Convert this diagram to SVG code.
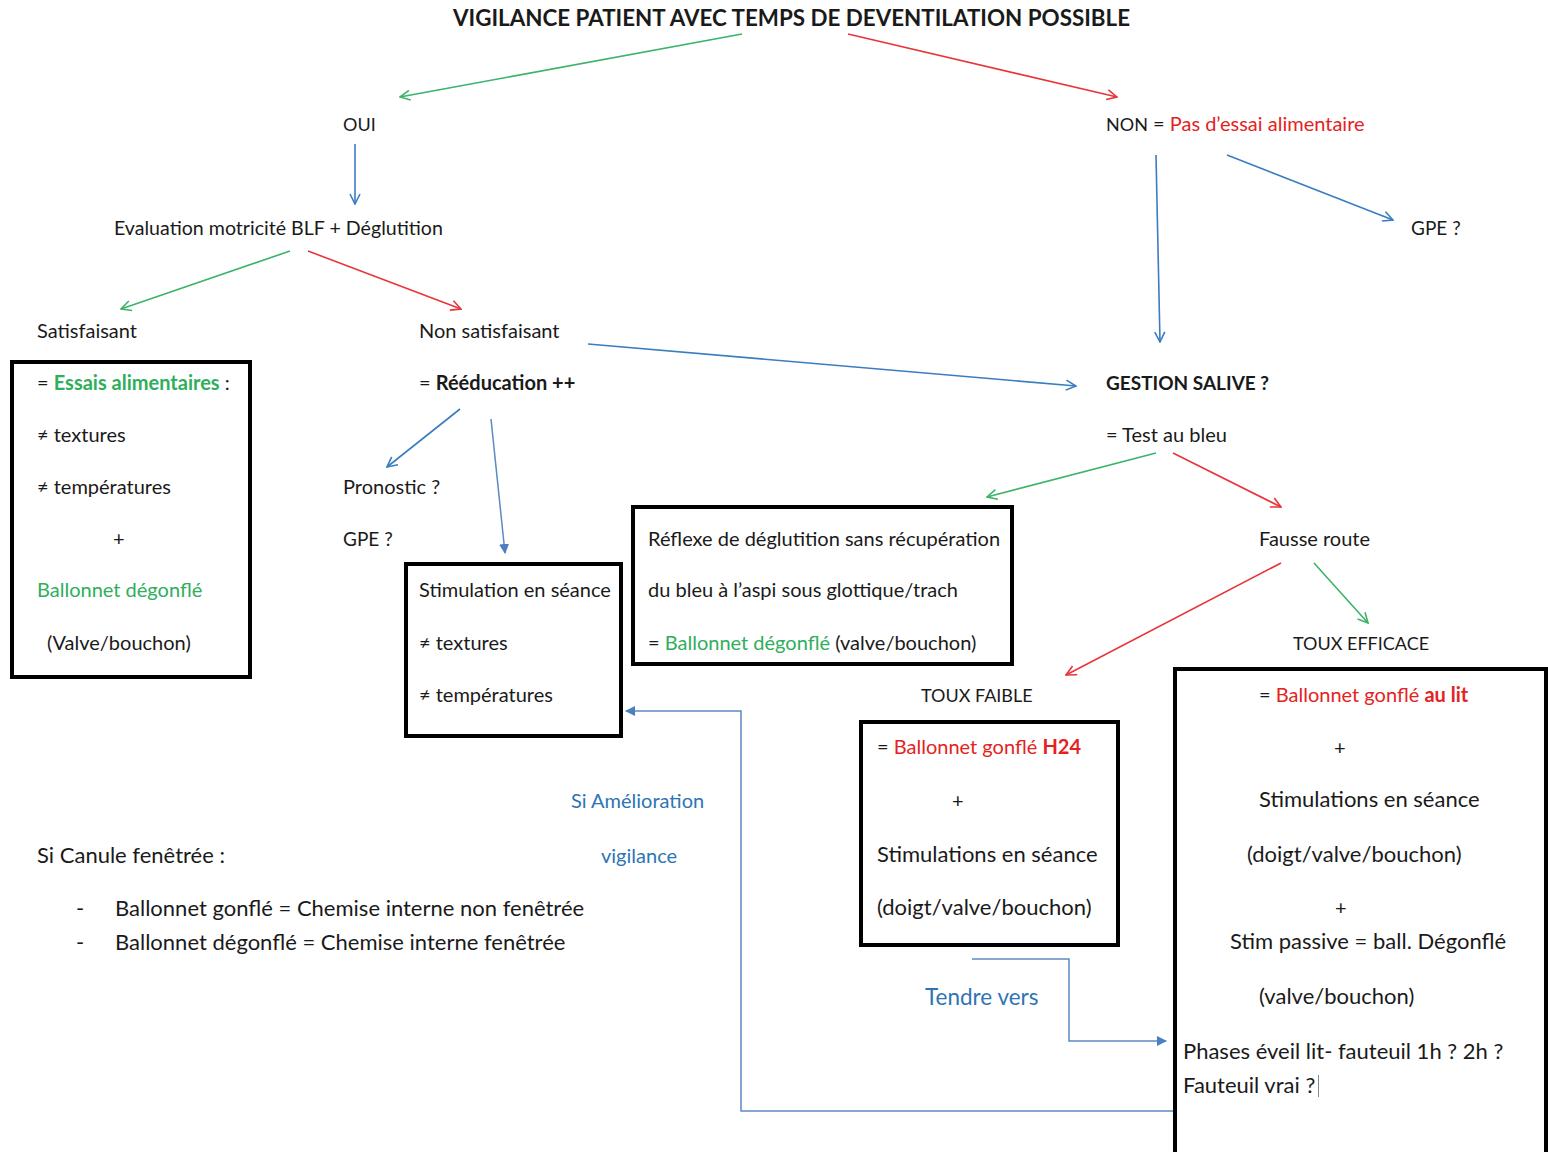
<svg xmlns="http://www.w3.org/2000/svg" width="1548" height="1152" viewBox="0 0 1548 1152">
<defs>
<style>
text{font-family:Lato,"Liberation Sans",sans-serif;font-size:20px;fill:#1a1a1a}
.b{font-weight:bold}
.g{fill:#2fae5c}
.r{fill:#e42222}
.bl{fill:#2e74b5}
.big{font-size:22px}
.caps{font-size:18px}
.box{fill:none;stroke:#000;stroke-width:4}
.cg{stroke:#3bb36a;stroke-width:1.6;fill:none}
.cr{stroke:#e8353a;stroke-width:1.6;fill:none}
.cb{stroke:#3a7dc0;stroke-width:1.6;fill:none}
.cbe{stroke:#5b8ac4;stroke-width:1.5;fill:none}
</style>
<marker id="ag" viewBox="0 0 12 12" refX="11" refY="6" markerWidth="12" markerHeight="12" markerUnits="userSpaceOnUse" orient="auto"><path d="M1,1 L11,6 L1,11" fill="none" stroke="#3bb36a" stroke-width="1.6"/></marker>
<marker id="ar" viewBox="0 0 12 12" refX="11" refY="6" markerWidth="12" markerHeight="12" markerUnits="userSpaceOnUse" orient="auto"><path d="M1,1 L11,6 L1,11" fill="none" stroke="#e8353a" stroke-width="1.6"/></marker>
<marker id="ab" viewBox="0 0 12 12" refX="11" refY="6" markerWidth="12" markerHeight="12" markerUnits="userSpaceOnUse" orient="auto"><path d="M1,1 L11,6 L1,11" fill="none" stroke="#3a7dc0" stroke-width="1.6"/></marker>
<marker id="af" viewBox="0 0 10 10" refX="9" refY="5" markerWidth="10" markerHeight="10" markerUnits="userSpaceOnUse" orient="auto"><path d="M0,0 L10,5 L0,10 Z" fill="#4a7fc1"/></marker>
</defs>
<rect width="1548" height="1152" fill="#fff"/>

<g id="connectors">
<line class="cg" x1="742" y1="34" x2="400" y2="97" marker-end="url(#ag)"/>
<line class="cr" x1="848" y1="34" x2="1117" y2="97" marker-end="url(#ar)"/>
<line class="cb" x1="355" y1="144" x2="355" y2="204" marker-end="url(#ab)"/>
<line class="cg" x1="290" y1="251" x2="121" y2="309" marker-end="url(#ag)"/>
<line class="cr" x1="308" y1="251" x2="461" y2="309" marker-end="url(#ar)"/>
<line class="cb" x1="1156" y1="155" x2="1160" y2="342" marker-end="url(#ab)"/>
<line class="cb" x1="1227" y1="155" x2="1393" y2="220" marker-end="url(#ab)"/>
<line class="cb" x1="588" y1="344" x2="1076" y2="386" marker-end="url(#ab)"/>
<line class="cb" x1="460" y1="409" x2="387" y2="467" marker-end="url(#ab)"/>
<line class="cbe" x1="491" y1="419" x2="505" y2="553" marker-end="url(#af)"/>
<line class="cg" x1="1156" y1="453" x2="987" y2="497" marker-end="url(#ag)"/>
<line class="cr" x1="1173" y1="453" x2="1281" y2="507" marker-end="url(#ar)"/>
<line class="cr" x1="1281" y1="563" x2="1066" y2="675" marker-end="url(#ar)"/>
<line class="cg" x1="1314" y1="563" x2="1368" y2="623" marker-end="url(#ag)"/>
<polyline class="cbe" points="972,959 1069,959 1069,1041 1166,1041" marker-end="url(#af)"/>
<polyline class="cbe" points="1173,1111 741,1111 741,711 626,711" marker-end="url(#af)"/>
</g>

<g id="title"><text x="453" y="26" class="b" style="font-size:22px" textLength="677" lengthAdjust="spacingAndGlyphs">VIGILANCE PATIENT AVEC TEMPS DE DEVENTILATION POSSIBLE</text></g>
<g id="oui"><text x="343" y="131" class="caps">OUI</text></g>
<g id="non"><text x="1106" y="131"><tspan style="font-size:18px">NON</tspan> = <tspan class="r">Pas d’essai alimentaire</tspan></text></g>
<g id="evaluation"><text x="114" y="235" style="font-size:19.6px">Evaluation motricité BLF + Déglutition</text></g>
<g id="gpe1"><text x="1411" y="235" style="font-size:19px">GPE ?</text></g>
<g id="satisfaisant"><text x="37" y="338">Satisfaisant</text></g>
<g id="non-satisfaisant"><text x="419" y="338">Non satisfaisant</text></g>
<g id="gestion"><text x="1106" y="390" class="b" style="font-size:19px">GESTION SALIVE ?</text></g>
<g id="test"><text x="1106" y="442">= Test au bleu</text></g>
<g id="reeducation"><text x="419" y="390">= <tspan class="b">Rééducation ++</tspan></text></g>

<g id="box-essais">
<rect class="box" x="12" y="362" width="238" height="315"/>
<text x="37" y="390">= <tspan class="g b">Essais alimentaires</tspan> :</text>
<text x="37" y="442">≠ textures</text>
<text x="37" y="494">≠ températures</text>
<text x="113" y="546">+</text>
<text x="37" y="597" class="g">Ballonnet dégonflé</text>
<text x="47" y="650">(Valve/bouchon)</text>
</g>

<g id="pronostic"><text x="343" y="494">Pronostic ?</text></g>
<g id="gpe2"><text x="343" y="546" style="font-size:19px">GPE ?</text></g>

<g id="box-stimulation">
<rect class="box" x="406" y="564" width="215" height="172"/>
<text x="419" y="597">Stimulation en séance</text>
<text x="419" y="650">≠ textures</text>
<text x="419" y="702">≠ températures</text>
</g>

<g id="box-reflexe">
<rect class="box" x="633" y="507" width="379" height="157"/>
<text x="648" y="546">Réflexe de déglutition sans récupération</text>
<text x="648" y="597">du bleu à l’aspi sous glottique/trach</text>
<text x="648" y="650">= <tspan class="g">Ballonnet dégonflé</tspan> (valve/bouchon)</text>
</g>

<g id="fausse-route"><text x="1259" y="546">Fausse route</text></g>
<g id="toux-efficace"><text x="1293" y="650" class="caps">TOUX EFFICACE</text></g>
<g id="toux-faible"><text x="921" y="702" class="caps">TOUX FAIBLE</text></g>

<g id="box-h24">
<rect class="box" x="861" y="722" width="257" height="223"/>
<text x="877" y="754">= <tspan class="r">Ballonnet gonflé </tspan><tspan class="r b">H24</tspan></text>
<text x="952" y="808">+</text>
<text x="877" y="862" class="big">Stimulations en séance</text>
<text x="877" y="915" class="big">(doigt/valve/bouchon)</text>
</g>

<g id="box-au-lit">
<rect class="box" x="1175" y="669" width="371" height="490"/>
<text x="1259" y="702">= <tspan class="r">Ballonnet gonflé </tspan><tspan class="r b">au lit</tspan></text>
<text x="1334" y="755">+</text>
<text x="1259" y="807" class="big">Stimulations en séance</text>
<text x="1247" y="862" class="big">(doigt/valve/bouchon)</text>
<text x="1335" y="915">+</text>
<text x="1230" y="949" class="big">Stim passive = ball. Dégonflé</text>
<text x="1259" y="1004" class="big">(valve/bouchon)</text>
<text x="1183" y="1059" class="big">Phases éveil lit- fauteuil 1h ? 2h ?</text>
<text x="1183" y="1093" class="big">Fauteuil vrai ?</text>
<line x1="1318.5" y1="1075" x2="1318.5" y2="1097" stroke="#888" stroke-width="1"/>
</g>

<g id="si-amelioration"><text x="571" y="808" class="bl">Si Amélioration</text></g>
<g id="vigilance"><text x="601" y="863" class="bl">vigilance</text></g>
<g id="tendre-vers"><text x="925" y="1005" class="bl big" style="font-size:22.5px">Tendre vers</text></g>

<g id="canule">
<text x="37" y="863" class="big">Si Canule fenêtrée :</text>
<text x="76" y="916" class="big">-</text>
<text x="115" y="916" class="big">Ballonnet gonflé = Chemise interne non fenêtrée</text>
<text x="76" y="950" class="big">-</text>
<text x="115" y="950" class="big">Ballonnet dégonflé = Chemise interne fenêtrée</text>
</g>
</svg>
